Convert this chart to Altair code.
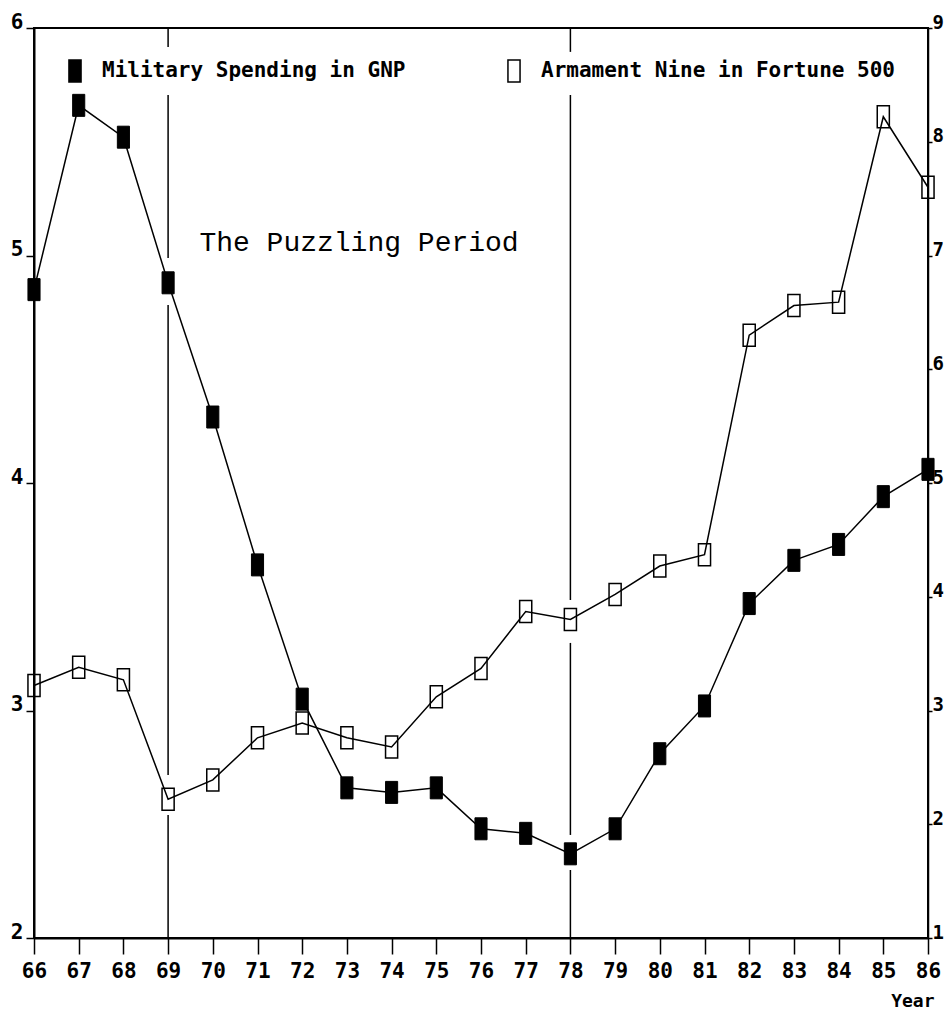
import altair as alt
import pandas as pd

# ---- data ----
years = list(range(66, 87))
military = [4.85, 5.66, 5.52, 4.88, 4.29, 3.64, 3.05, 2.66, 2.64, 2.66, 2.48,
            2.46, 2.37, 2.48, 2.81, 3.02, 3.47, 3.66, 3.73, 3.94, 4.06]
armament = [3.22, 3.38, 3.27, 2.22, 2.39, 2.76, 2.89, 2.76, 2.68, 3.12, 3.37,
            3.87, 3.80, 4.02, 4.27, 4.37, 6.30, 6.56, 6.59, 8.22, 7.60]
series_names = ["Military Spending in GNP", "Armament Nine in Fortune 500"]
left_ticks = [2, 3, 4, 5, 6]
right_ticks = [1, 2, 3, 4, 5, 6, 7, 8, 9]

# vertical period markers (segments, in left-axis units)
rule_year = [69, 69, 69, 69, 78, 78, 78, 78]
rule_from = [6.0, 5.705, 4.782, 2.541, 6.0, 5.705, 3.297, 2.299]
rule_to = [5.916, 4.989, 2.716, 2.0, 5.895, 3.486, 2.453, 2.0]

note_text = ["The Puzzling Period"]
note_year = [69.7]
note_value = [5.055]

BOX = "M-0.55,-1H0.55V1H-0.55Z"
MONO = "DejaVu Sans Mono"

mil_df = pd.DataFrame({"year": years, "value": military, "series": series_names[0]})
arm_df = pd.DataFrame({"year": years, "value": armament, "series": series_names[1]})
rule_df = pd.DataFrame({"year": rule_year, "y_from": rule_from, "y_to": rule_to})
note_df = pd.DataFrame({"year": note_year, "value": note_value, "text": note_text})

x_enc = alt.X(
    "year:Q",
    scale=alt.Scale(domain=[66, 86], nice=False, zero=False),
    axis=alt.Axis(
        values=years, format="d", title="Year", grid=False, labelFlush=False,
        domainColor="black", domainWidth=2, tickColor="black", tickWidth=1.5,
        tickSize=16, labelPadding=6, labelFont=MONO, labelFontWeight="bold",
        labelFontSize=21, labelColor="black", labelBaseline="top",
        titleFont=MONO, titleFontWeight="bold", titleFontSize=18, titleColor="black",
        titleAnchor="start", titleAlign="right", titleBaseline="alphabetic",
        titleX=900, titleY=68,
    ),
)

left_scale = alt.Scale(domain=[2, 6], nice=False, zero=False)
right_scale = alt.Scale(domain=[1, 9], nice=False, zero=False)

left_axis = alt.Axis(
    orient="left", values=left_ticks, title=None, grid=False, labelFlush=False,
    domainColor="black", domainWidth=2, tickColor="black", tickWidth=1.5,
    tickSize=8, labelPadding=3, labelFont=MONO, labelFontWeight="bold",
    labelFontSize=21, labelColor="black", labelBaseline="alphabetic",
    labelAlign="right",
)
right_axis = alt.Axis(
    orient="right", values=right_ticks, title=None, grid=False, labelFlush=False,
    domainColor="black", domainWidth=1.5, tickColor="black", tickWidth=1.5,
    tickSize=4, labelPadding=0, labelFont=MONO, labelFontWeight="bold",
    labelFontSize=19, labelColor="black", labelBaseline="alphabetic",
    labelAlign="left",
)

fill_enc = alt.Fill(
    "series:N",
    scale=alt.Scale(domain=series_names, range=["black", "transparent"]),
    legend=alt.Legend(
        title=None, orient="none", legendX=29, legendY=31, direction="horizontal",
        symbolType=BOX, symbolSize=484, symbolStrokeColor="black",
        symbolStrokeWidth=1.5, labelFont=MONO, labelFontWeight="bold",
        labelFontSize=21, labelColor="black", labelOffset=15, labelLimit=600,
        columnPadding=96, padding=0,
    ),
)

mil_line = alt.Chart(mil_df).mark_line(color="black", strokeWidth=1.5).encode(
    x=x_enc, y=alt.Y("value:Q", scale=left_scale, axis=left_axis)
)
mil_pts = alt.Chart(mil_df).mark_point(
    shape=BOX, size=484, filled=True, stroke="black", strokeWidth=1, opacity=1
).encode(x=x_enc, y=alt.Y("value:Q", scale=left_scale, axis=left_axis), fill=fill_enc)
rules = alt.Chart(rule_df).mark_rule(color="black", strokeWidth=1.5).encode(
    x=x_enc, y=alt.Y("y_from:Q", scale=left_scale, axis=left_axis), y2="y_to:Q"
)
note = alt.Chart(note_df).mark_text(
    font="Liberation Mono", fontSize=28, color="black", align="left", baseline="middle"
).encode(x=x_enc, y=alt.Y("value:Q", scale=left_scale, axis=left_axis), text="text:N")

arm_line = alt.Chart(arm_df).mark_line(color="black", strokeWidth=1.5).encode(
    x=x_enc, y=alt.Y("value:Q", scale=right_scale, axis=right_axis)
)
arm_pts = alt.Chart(arm_df).mark_point(
    shape=BOX, size=484, filled=True, stroke="black", strokeWidth=1.5, opacity=1
).encode(x=x_enc, y=alt.Y("value:Q", scale=right_scale, axis=right_axis), fill=fill_enc)

left_group = alt.layer(rules, mil_line, mil_pts, note)
right_group = alt.layer(arm_line, arm_pts)

chart = (
    alt.layer(left_group, right_group)
    .resolve_scale(y="independent")
    .properties(
        width=894, height=910,
        padding={"left": 26, "top": 20, "right": 16, "bottom": 71},
        autosize=alt.AutoSizeParams(type="none"),
        background="white",
    )
    .configure_view(stroke="black", strokeWidth=2)
)

chart.save("out.html", embed_options={"renderer": "svg", "actions": False})
